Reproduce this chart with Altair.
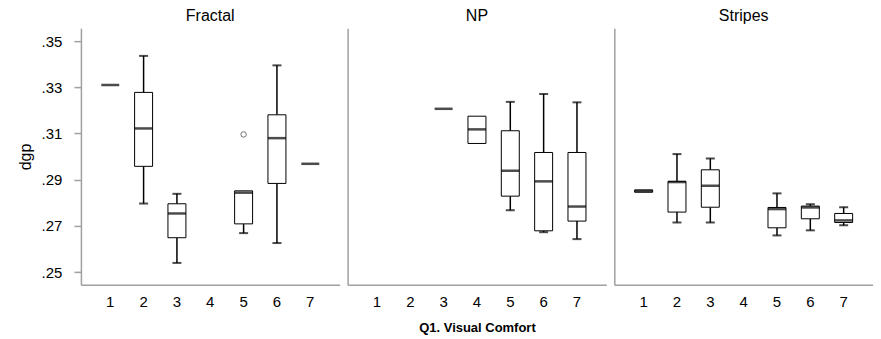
import altair as alt
import pandas as pd

CATS = [1, 2, 3, 4, 5, 6, 7]
Y_TICKS = [0.25, 0.27, 0.29, 0.31, 0.33, 0.35]

# Fractal
fractal_cat = [1, 2, 3, 5, 6, 7]
fractal_low = [0.3310, 0.2797, 0.2540, 0.2669, 0.2626, 0.2969]
fractal_q1 = [0.3310, 0.2958, 0.2649, 0.2709, 0.2884, 0.2969]
fractal_med = [0.3310, 0.3122, 0.2754, 0.2844, 0.3080, 0.2969]
fractal_q3 = [0.3310, 0.3278, 0.2796, 0.2852, 0.3181, 0.2969]
fractal_high = [0.3310, 0.3436, 0.2839, 0.2852, 0.3395, 0.2969]
fractal_out_cat = [5]
fractal_out_val = [0.3096]

# NP
np_cat = [3, 4, 5, 6, 7]
np_low = [0.3207, 0.3057, 0.2768, 0.2673, 0.2643]
np_q1 = [0.3207, 0.3057, 0.2829, 0.2679, 0.2721]
np_med = [0.3207, 0.3118, 0.2939, 0.2893, 0.2784]
np_q3 = [0.3207, 0.3175, 0.3112, 0.3018, 0.3018]
np_high = [0.3207, 0.3175, 0.3237, 0.3271, 0.3235]

# Stripes
stripes_cat = [1, 2, 3, 5, 6, 7]
stripes_low = [0.2846, 0.2715, 0.2715, 0.2659, 0.2681, 0.2703]
stripes_q1 = [0.2846, 0.2760, 0.2781, 0.2692, 0.2731, 0.2715]
stripes_med = [0.2851, 0.2890, 0.2874, 0.2773, 0.2780, 0.2724]
stripes_q3 = [0.2856, 0.2893, 0.2943, 0.2780, 0.2786, 0.2754]
stripes_high = [0.2856, 0.3011, 0.2992, 0.2841, 0.2794, 0.2781]

FONT = "Liberation Sans"
AXIS_COLOR = "#a0a0a0"
W, H = 259, 257


def make_panel(name, cat, low, q1, med, q3, high, out_cat, out_val, first, middle):
    df = pd.DataFrame({"cat": cat, "low": low, "q1": q1, "med": med, "q3": q3, "high": high})
    up = df[df["high"] > df["q3"] + 1e-9][["cat", "q3", "high"]].rename(columns={"q3": "a", "high": "b"})
    dn = df[df["low"] < df["q1"] - 1e-9][["cat", "low", "q1"]].rename(columns={"low": "b", "q1": "a"})
    whisk = pd.concat([up, dn], ignore_index=True)
    boxes = df[df["q3"] > df["q1"] + 1e-9]
    outs = pd.DataFrame({"cat": out_cat, "v": out_val})

    yscale = alt.Scale(domain=[0.2445, 0.3556], nice=False, zero=False)
    xscale = alt.Scale(domain=CATS, paddingInner=0, paddingOuter=0.38)

    xaxis = alt.Axis(
        labelAngle=0, ticks=False, labelPadding=10, domainColor=AXIS_COLOR, domainWidth=1.5,
        labelFont=FONT, labelFontSize=15, labelColor="black",
        title="Q1. Visual Comfort" if middle else None,
        titleFont=FONT, titleFontSize=13, titleFontWeight="bold", titlePadding=12, titleColor="black",
    )
    if first:
        yaxis = alt.Axis(
            values=Y_TICKS, labelExpr="slice(format(datum.value, '.2f'), 1)",
            tickSize=7, tickColor=AXIS_COLOR, tickWidth=1.5, domainColor=AXIS_COLOR, domainWidth=1.5,
            labelFont=FONT, labelFontSize=15, labelColor="black", labelPadding=12,
            title="dgp", titleFont=FONT, titleFontSize=16, titleFontWeight="normal",
            titleColor="black", titlePadding=8, grid=False,
        )
    else:
        yaxis = alt.Axis(
            values=Y_TICKS, labels=False, ticks=False, title=None,
            domainColor=AXIS_COLOR, domainWidth=1.5, grid=False,
        )

    X = lambda: alt.X("cat:O", scale=xscale, axis=xaxis)

    whiskers = alt.Chart(whisk).mark_rule(color="black", strokeWidth=1.5).encode(
        x=X(), y=alt.Y("a:Q", scale=yscale, axis=yaxis), y2="b:Q"
    )
    caps = alt.Chart(whisk).mark_tick(color="black", size=9, thickness=2).encode(
        x=X(), y=alt.Y("b:Q", scale=yscale, axis=yaxis)
    )
    box = alt.Chart(boxes).mark_bar(size=18, fill="white", stroke="black", strokeWidth=1).encode(
        x=X(), y=alt.Y("q1:Q", scale=yscale, axis=yaxis), y2="q3:Q"
    )
    median = alt.Chart(df).mark_tick(color="black", size=18, thickness=2.5).encode(
        x=X(), y=alt.Y("med:Q", scale=yscale, axis=yaxis)
    )
    layers = [whiskers, caps, box, median]
    if len(outs):
        pts = alt.Chart(outs).mark_point(shape="circle", size=30, filled=False, color="#333333", strokeWidth=1).encode(
            x=X(), y=alt.Y("v:Q", scale=yscale, axis=yaxis)
        )
        layers.append(pts)
    return alt.layer(*layers).properties(
        width=W, height=H,
        title=alt.TitleParams(name, font=FONT, fontSize=16, fontWeight="normal", color="black", offset=4),
    )


p1 = make_panel("Fractal", fractal_cat, fractal_low, fractal_q1, fractal_med, fractal_q3, fractal_high,
                fractal_out_cat, fractal_out_val, True, False)
p2 = make_panel("NP", np_cat, np_low, np_q1, np_med, np_q3, np_high, [], [], False, True)
p3 = make_panel("Stripes", stripes_cat, stripes_low, stripes_q1, stripes_med, stripes_q3, stripes_high,
                [], [], False, False)

chart = alt.hconcat(p1, p2, p3, spacing=8).configure_view(stroke=None).properties(
    padding={"left": 9, "top": 0, "right": 0, "bottom": 0}
)

chart.save("out.html", embed_options={"renderer": "svg", "actions": False})
